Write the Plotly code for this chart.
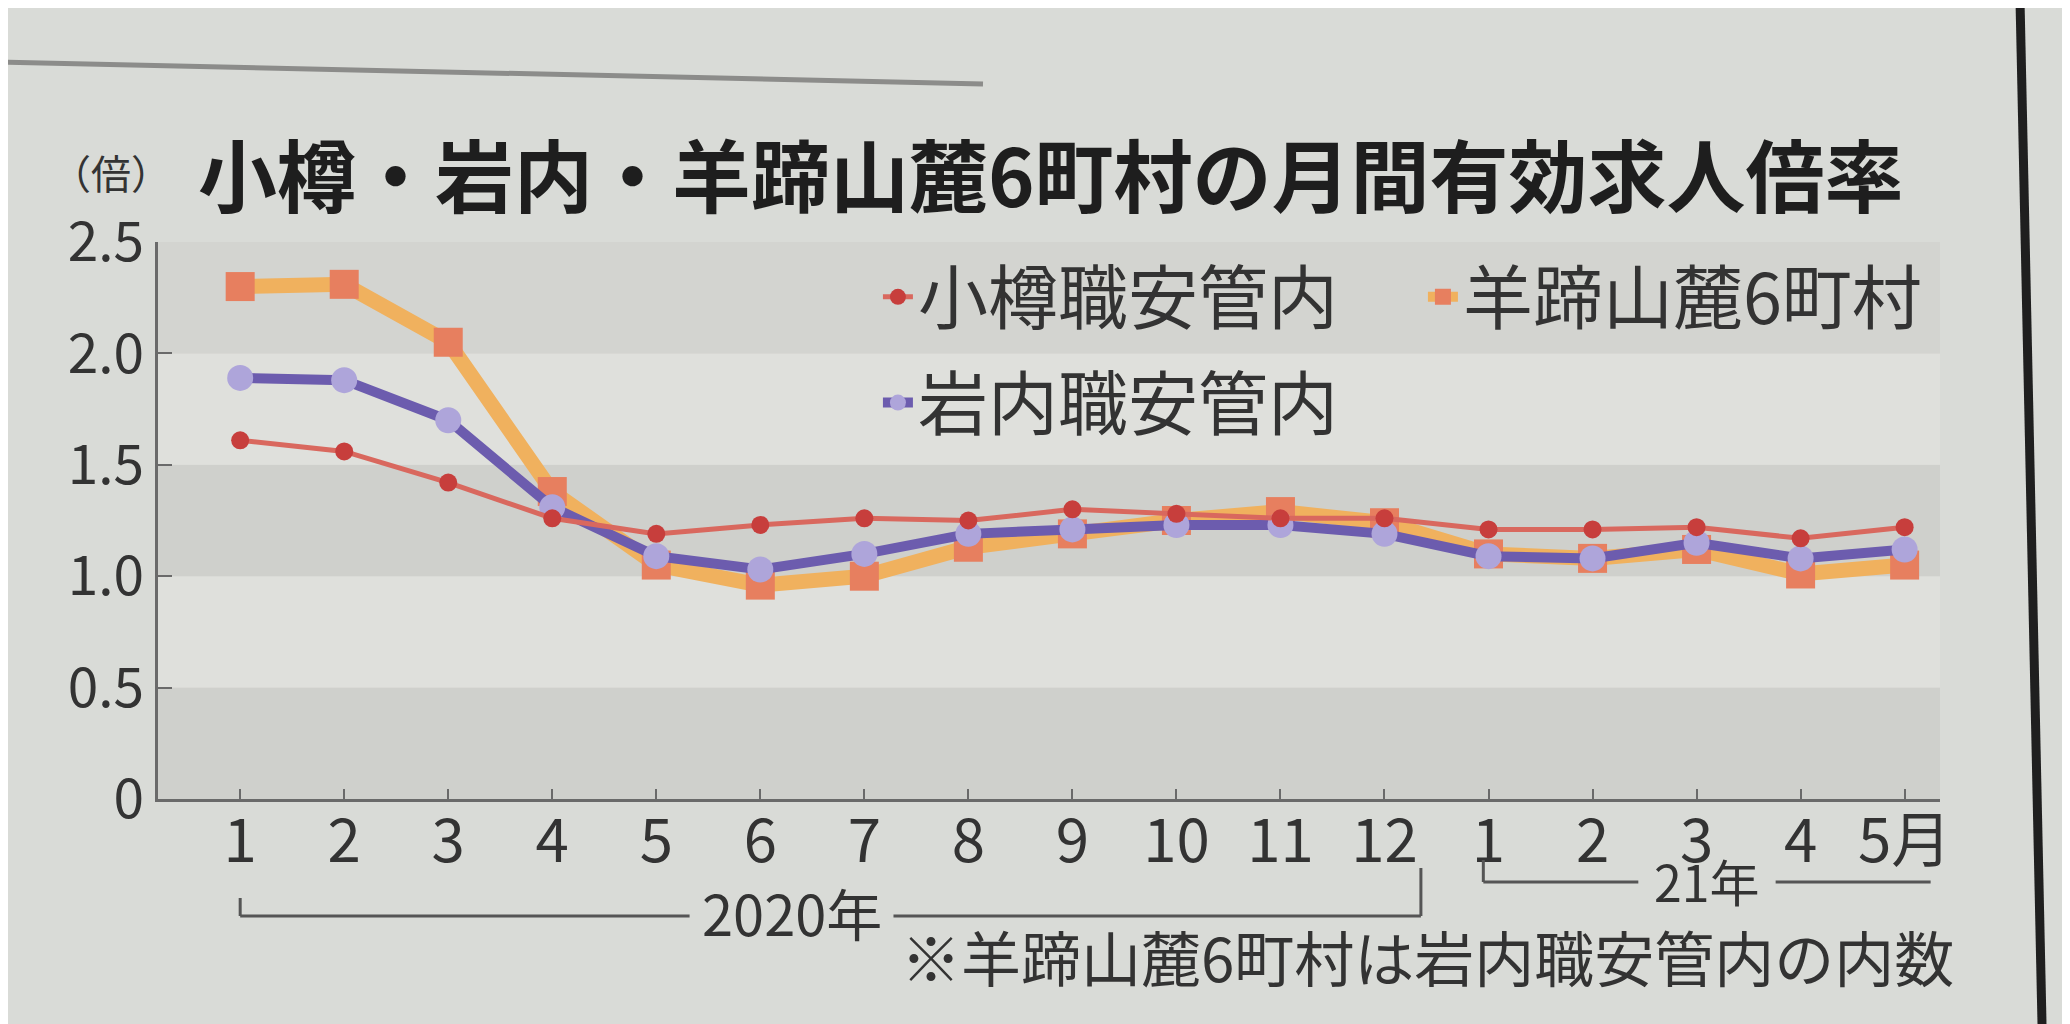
import plotly.graph_objects as go

# ---- data ----
months = list(range(1, 18))
tick_labels = ["1", "2", "3", "4", "5", "6", "7", "8", "9", "10", "11", "12",
               "1", "2", "3", "4", "5月"]
otaru = [1.61, 1.56, 1.42, 1.26, 1.19, 1.23, 1.26, 1.25, 1.30, 1.28, 1.26, 1.26,
         1.21, 1.21, 1.22, 1.17, 1.22]
iwanai = [1.89, 1.88, 1.70, 1.31, 1.09, 1.03, 1.10, 1.19, 1.21, 1.23, 1.23, 1.19,
          1.09, 1.08, 1.15, 1.08, 1.12]
yotei = [2.30, 2.31, 2.05, 1.38, 1.05, 0.96, 1.00, 1.13, 1.19, 1.25, 1.29, 1.24,
         1.10, 1.08, 1.12, 1.01, 1.05]
y_ticks = [0, 0.5, 1.0, 1.5, 2.0, 2.5]
y_tick_text = ["0", "0.5", "1.0", "1.5", "2.0", "2.5"]

FONT = "Noto Sans CJK JP"
PAPER = "#d9dbd7"
TXT = "#333333"

fig = go.Figure()

fig.add_trace(go.Scatter(
    x=months, y=yotei, name="羊蹄山麓6町村", mode="lines+markers",
    line=dict(color="#f0b15e", width=15),
    marker=dict(symbol="square", size=29, color="#e77f5f"),
    legend="legend", legendrank=2))
fig.add_trace(go.Scatter(
    x=months, y=iwanai, name="岩内職安管内", mode="lines+markers",
    line=dict(color="#6c5cae", width=10),
    marker=dict(symbol="circle", size=26, color="#aea5da"),
    legend="legend2", legendrank=3))
fig.add_trace(go.Scatter(
    x=months, y=otaru, name="小樽職安管内", mode="lines+markers",
    line=dict(color="#d9685e", width=5),
    marker=dict(symbol="circle", size=18, color="#c73e3c"),
    legend="legend", legendrank=1))

# background bands
band_colors = ["#cfd0cc", "#dfe0dc", "#cfd0cc", "#dfe0dc", "#d3d4d0"]
for i, c in enumerate(band_colors):
    fig.add_shape(type="rect", xref="paper", yref="y", x0=0, x1=1,
                  y0=y_ticks[i], y1=y_ticks[i + 1], fillcolor=c,
                  line_width=0, layer="below")

pw = 1782
ph = 557
def py(pix):
    return (799 - pix) / ph
def px(pix):
    return (pix - 158) / pw

shapes_line = dict(color="#555555", width=3)
def seg(x0, x1, y0, y1):
    fig.add_shape(type="line", xref="x", yref="paper", x0=x0, x1=x1,
                  y0=py(y0), y1=py(y1), line=shapes_line)

# 2020 bracket (line broken around its label)
y20_c = 6.3
seg(1, 1, 898, 916)
seg(1, y20_c - 0.98, 916, 916)
seg(y20_c + 0.98, 12.35, 916, 916)
seg(12.35, 12.35, 916, 868)
# 21 bracket
y21_c = 15.1
seg(12.95, 12.95, 860, 882)
seg(12.95, y21_c - 0.66, 882, 882)
seg(y21_c + 0.66, 17.25, 882, 882)

fig.add_annotation(xref="x", yref="paper", x=y20_c, y=py(911), xanchor="center", yanchor="middle",
                   text="2020年", showarrow=False,
                   font=dict(family=FONT, size=56, color=TXT))
fig.add_annotation(xref="x", yref="paper", x=y21_c, y=py(880), xanchor="center", yanchor="middle",
                   text="21年", showarrow=False,
                   font=dict(family=FONT, size=50, color=TXT))

# notes and title
fig.add_annotation(xref="paper", yref="paper", x=px(1956), y=py(955), xanchor="right", yanchor="middle",
                   text="※羊蹄山麓6町村は岩内職安管内の内数", showarrow=False,
                   font=dict(family=FONT, size=60, color=TXT))
fig.add_annotation(xref="paper", yref="paper", x=px(196), y=py(172), xanchor="left", yanchor="middle",
                   text="<b>小樽・岩内・羊蹄山麓6町村の月間有効求人倍率</b>", showarrow=False,
                   font=dict(family=FONT, size=79, color="#1e1e1e"))
fig.add_annotation(xref="paper", yref="paper", x=px(111), y=py(172), xanchor="center", yanchor="middle",
                   text="（倍）", showarrow=False,
                   font=dict(family=FONT, size=40, color=TXT))

# decorations from the page
fig.add_shape(type="line", xref="paper", yref="paper", x0=px(0), x1=px(983), y0=py(62), y1=py(84),
              line=dict(color="#8c8c8a", width=5))
fig.add_shape(type="line", xref="paper", yref="paper", x0=px(2020), x1=px(2042), y0=py(0), y1=py(1024),
              line=dict(color="#1f1f1f", width=9))

fig.update_layout(
    width=2070, height=1024,
    margin=dict(l=150, r=138, t=234, b=233),
    paper_bgcolor=PAPER, plot_bgcolor=PAPER,
    font=dict(family=FONT, color=TXT),
    legend=dict(orientation="h", x=0.404, y=0.995, xanchor="left", yanchor="top",
                entrywidth=500, bgcolor="rgba(0,0,0,0)",
                font=dict(family=FONT, size=70, color=TXT), traceorder="normal"),
    legend2=dict(orientation="h", x=0.404, y=0.805, xanchor="left", yanchor="top",
                 bgcolor="rgba(0,0,0,0)",
                 font=dict(family=FONT, size=70, color=TXT)),
    xaxis=dict(range=[0.21, 17.34], tickmode="array", tickvals=months, ticktext=tick_labels,
               showgrid=False, zeroline=False, showline=True, linecolor="#6a6a6a", linewidth=3,
               ticks="inside", ticklen=10, tickcolor="#6a6a6a", tickwidth=2,
               ticklabelstandoff=-12,
               tickfont=dict(family=FONT, size=60, color=TXT)),
    yaxis=dict(range=[0, 2.5], tickmode="array", tickvals=y_ticks, ticktext=y_tick_text,
               showgrid=False, zeroline=False, showline=True, linecolor="#6a6a6a", linewidth=3,
               ticks="inside", ticklen=14, tickcolor="#6a6a6a", tickwidth=2,
               tickfont=dict(family=FONT, size=55, color=TXT)),
)

fig.write_html("out.html")
